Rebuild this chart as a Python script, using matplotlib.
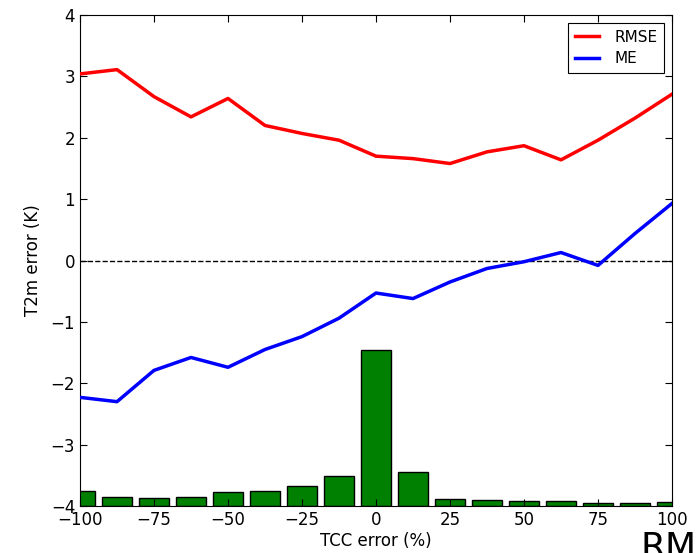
import numpy as np
import matplotlib
matplotlib.use("Agg")
import matplotlib.pyplot as plt

# TCC error bins (%)
tcc = [-100, -87.5, -75, -62.5, -50, -37.5, -25, -12.5, 0,
       12.5, 25, 37.5, 50, 62.5, 75, 87.5, 100]

rmse = [3.04, 3.11, 2.67, 2.34, 2.64, 2.20, 2.07, 1.96, 1.70,
        1.66, 1.58, 1.77, 1.87, 1.64, 1.96, 2.32, 2.71]
me = [-2.23, -2.30, -1.79, -1.58, -1.74, -1.45, -1.24, -0.94, -0.53,
      -0.62, -0.35, -0.13, -0.02, 0.13, -0.08, 0.44, 0.93]

# histogram bar heights above the bottom of the axis
counts = [0.24, 0.15, 0.13, 0.15, 0.22, 0.25, 0.33, 0.49, 2.54,
          0.56, 0.11, 0.09, 0.08, 0.08, 0.055, 0.05, 0.07]

fig = plt.figure(figsize=(6.97, 5.53), dpi=100)
ax = fig.add_axes([80 / 697, 47 / 553, 592 / 697, 491 / 553])

ax.bar(tcc, counts, width=10, bottom=-4, color="green", edgecolor="black",
       linewidth=1, align="center", zorder=1)
ax.axhline(0, color="black", linestyle="--", linewidth=1, zorder=2)
ax.plot(tcc, rmse, color="red", linewidth=2.5, label="RMSE", zorder=3)
ax.plot(tcc, me, color="blue", linewidth=2.5, label="ME", zorder=3)

ax.set_xlim(-100, 100)
ax.set_ylim(-4, 4)
ax.set_xticks([-100, -75, -50, -25, 0, 25, 50, 75, 100])
ax.set_yticks(range(-4, 5))
ax.tick_params(direction="in", top=True, right=True, labelsize=12, length=5)
ax.set_xlabel("TCC error (%)", fontsize=12, labelpad=2)
ax.set_ylabel("T2m error (K)", fontsize=12, labelpad=6)

leg = ax.legend(loc="upper right", fontsize=11, fancybox=False,
                framealpha=1, edgecolor="black", handlelength=1.6,
                handletextpad=1.0, borderpad=0.45, labelspacing=0.45)
leg.get_frame().set_linewidth(0.8)

# start of the next panel's title, cut off by the image edge
fig.text(640 / 697, -4 / 553, "RMSE", fontsize=26, va="baseline")

fig.savefig("out.png", dpi=100)
